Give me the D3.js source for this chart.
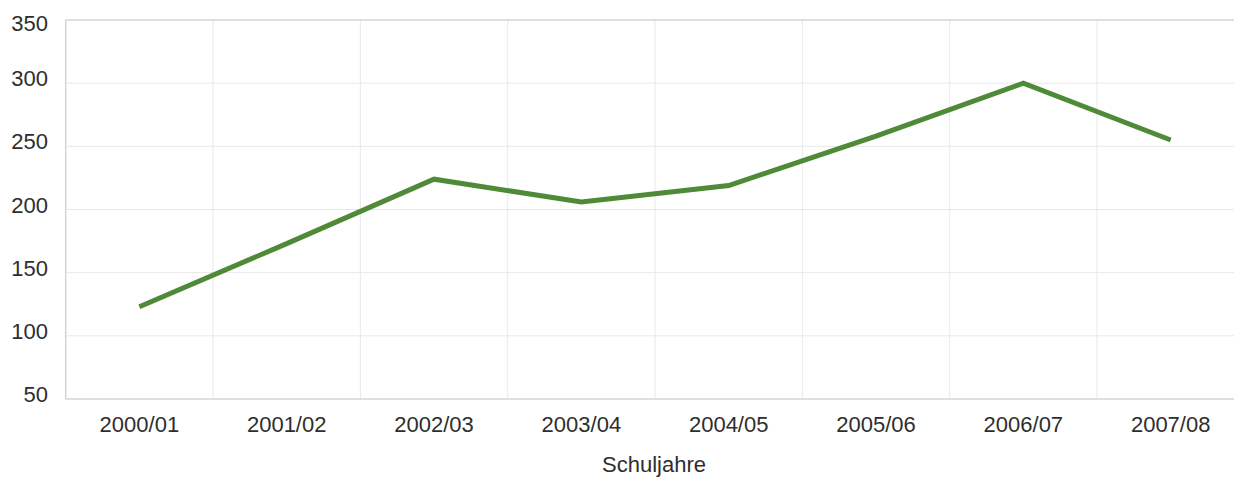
<!DOCTYPE html>
<html>
<head>
<meta charset="utf-8">
<script src="https://cdn.jsdelivr.net/npm/d3@7"></script>
<style>
  body { margin: 0; background: #fff; }
  svg { display: block; font-family: "Liberation Sans", Arial, sans-serif; }
</style>
</head>
<body>
<div id="grafico"></div>
<script>
// schuljahre y valores
var schuljahre = ["2000/01", "2001/02", "2002/03", "2003/04", "2004/05", "2005/06", "2006/07", "2007/08"];
var werte = [123, 173, 224, 206, 219, 258, 300, 255];
var yTicks = [50, 100, 150, 200, 250, 300, 350];

(function () {
  var ancho = 1234, alto = 477;
  var izq = 65.7, arriba = 20, abajo = 399;
  var anchoBanda = 147.33;
  var FUENTE = 22;
  var TEXTO = "#2e2e2e";

  var svg = d3.select("#grafico").append("svg")
    .attr("width", ancho).attr("height", alto);

  var x = d3.scaleBand().domain(schuljahre)
    .range([izq, izq + anchoBanda * schuljahre.length]);
  var y = d3.scaleLinear().domain([50, 350]).range([abajo, arriba]);

  // rejilla horizontal
  svg.append("g").selectAll("line").data(yTicks.slice(1, -1)).enter().append("line")
    .attr("x1", izq).attr("x2", ancho)
    .attr("y1", function (d) { return y(d); }).attr("y2", function (d) { return y(d); })
    .attr("stroke", "#e8e8e8").attr("stroke-width", 1);

  // rejilla vertical en los limites de cada banda
  svg.append("g").selectAll("line").data(schuljahre.slice(1)).enter().append("line")
    .attr("x1", function (d) { return x(d); }).attr("x2", function (d) { return x(d); })
    .attr("y1", arriba).attr("y2", abajo)
    .attr("stroke", "#e8e8e8").attr("stroke-width", 1);

  // bordes
  svg.append("line").attr("x1", izq).attr("x2", ancho).attr("y1", arriba).attr("y2", arriba)
    .attr("stroke", "#d4d4d4").attr("stroke-width", 1.5);
  svg.append("line").attr("x1", izq).attr("x2", ancho).attr("y1", abajo).attr("y2", abajo)
    .attr("stroke", "#d4d4d4").attr("stroke-width", 1.5);
  svg.append("line").attr("x1", izq).attr("x2", izq).attr("y1", arriba).attr("y2", abajo)
    .attr("stroke", "#d4d4d4").attr("stroke-width", 1.5);

  // eje y: etiquetas un poco por encima de la linea, la de arriba queda dentro
  var ejeY = svg.append("g").attr("transform", "translate(48,0)")
    .call(d3.axisLeft(y).tickValues(yTicks).tickSize(0).tickPadding(0));
  ejeY.select(".domain").remove();
  ejeY.selectAll(".tick").attr("transform", function (d) {
    return "translate(0," + Math.max(y(d) - 4, 24) + ")";
  });
  ejeY.selectAll("text").attr("font-size", FUENTE).attr("fill", TEXTO)
    .attr("font-family", "Liberation Sans, Arial, sans-serif");

  // eje x
  var ejeX = svg.append("g").attr("transform", "translate(0," + abajo + ")")
    .call(d3.axisBottom(x).tickSize(0).tickPadding(0));
  ejeX.select(".domain").remove();
  ejeX.selectAll("text").attr("y", 32.5).attr("dy", null)
    .attr("font-size", FUENTE).attr("fill", TEXTO)
    .attr("font-family", "Liberation Sans, Arial, sans-serif");

  svg.append("text").attr("x", 654).attr("y", 472)
    .attr("text-anchor", "middle").attr("font-size", FUENTE).attr("fill", TEXTO)
    .text("Schuljahre");

  var linea = d3.line()
    .x(function (d, i) { return x(schuljahre[i]) + x.bandwidth() / 2; })
    .y(function (d) { return y(d); });

  svg.append("path").datum(werte)
    .attr("d", linea)
    .attr("fill", "none")
    .attr("stroke", "#4f8a38")
    .attr("stroke-width", 5);
})();
</script>
</body>
</html>
